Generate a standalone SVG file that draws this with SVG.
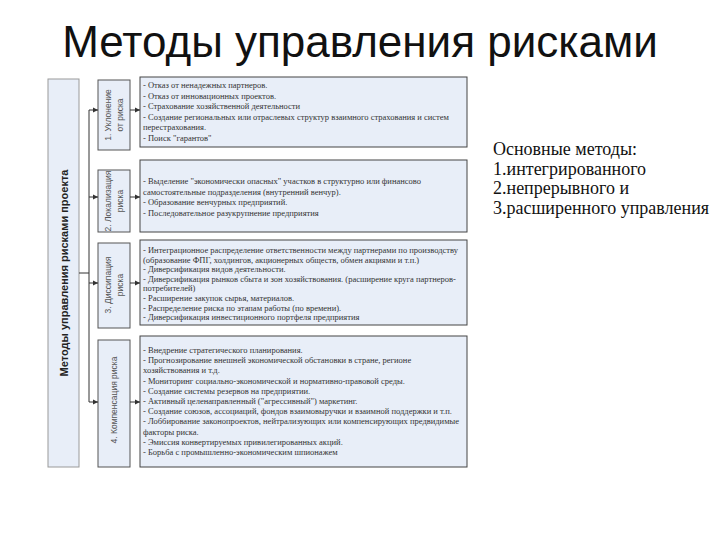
<svg xmlns="http://www.w3.org/2000/svg" width="720" height="540" viewBox="0 0 720 540">
<defs>
<marker id="arr" markerWidth="6" markerHeight="6" refX="5" refY="3" orient="auto" markerUnits="userSpaceOnUse">
<path d="M0,0.5 L5,3 L0,5.5 Z" fill="#333"/>
</marker>
<style>
.title{font-family:'Liberation Sans',Arial,sans-serif;font-size:44px;fill:#111}
.side{font-family:'Liberation Serif','DejaVu Serif','Times New Roman',serif;font-size:18px;fill:#111}
.big{fill:#e8eef8;stroke:#9a9a9a;stroke-width:1}
.small{fill:#e8eef8;stroke:#555;stroke-width:1}
.tbox{fill:#e8eef8;stroke:#444;stroke-width:1}
.bl{font-family:'Liberation Sans',Arial,sans-serif;font-size:11px;font-weight:bold;fill:#222}
.sl{font-family:'Liberation Sans',Arial,sans-serif;font-size:8.5px;fill:#555}
.tt{font-family:'Liberation Serif','DejaVu Serif','Times New Roman',serif;font-size:8.5px;fill:#333}
.ln{stroke:#333;stroke-width:1;fill:none}
</style>
</defs>
<rect width="720" height="540" fill="#fff"/>
<text class="title" x="360" y="57" text-anchor="middle">Методы управления рисками</text>
<g id="side-text" class="side">
<text x="493" y="155">Основные методы:</text>
<text x="493" y="175">1.интегрированного</text>
<text x="493" y="194">2.непрерывного и</text>
<text x="493" y="214">3.расширенного управления</text>
</g>
<g id="root">
<rect class="big" x="48" y="79" width="31" height="388"/>
<text class="bl" transform="translate(64,273) rotate(-90)" x="0" y="4" text-anchor="middle">Методы управления рисками проекта</text>
</g>
<g id="m1">
<rect class="small" x="98" y="80" width="32" height="70"/>
<text class="sl" transform="translate(114,115) rotate(-90)" text-anchor="middle"><tspan x="0" y="-3">1. Уклонение</tspan><tspan x="0" y="9">от риска</tspan></text>
</g>
<g id="m2">
<rect class="small" x="98" y="170" width="32" height="62"/>
<text class="sl" transform="translate(114,201) rotate(-90)" text-anchor="middle"><tspan x="0" y="-3">2. Локализация</tspan><tspan x="0" y="9">риска</tspan></text>
</g>
<g id="m3">
<rect class="small" x="98" y="243" width="32" height="85"/>
<text class="sl" transform="translate(114,285) rotate(-90)" text-anchor="middle"><tspan x="0" y="-3">3. Диссипация</tspan><tspan x="0" y="9">риска</tspan></text>
</g>
<g id="m4">
<rect class="small" x="98" y="340" width="32" height="127"/>
<text class="sl" transform="translate(114,400) rotate(-90)" x="0" y="3" text-anchor="middle">4. Компенсация риска</text>
</g>
<g id="t1">
<rect class="tbox" x="140" y="77" width="327" height="70"/>
<text class="tt"><tspan x="143" y="88">- Отказ от ненадежных партнеров.</tspan><tspan x="143" y="98.5">- Отказ от инновационных проектов.</tspan><tspan x="143" y="109">- Страхование хозяйственной деятельности</tspan><tspan x="143" y="119.5">- Создание региональных или отраслевых структур взаимного страхования и систем</tspan><tspan x="143" y="130">перестрахования.</tspan><tspan x="143" y="140.5">- Поиск "гарантов"</tspan></text>
</g>
<g id="t2">
<rect class="tbox" x="140" y="160" width="327" height="72"/>
<text class="tt"><tspan x="143" y="184">- Выделение "экономически опасных" участков в структурно или финансово</tspan><tspan x="143" y="194.5">самостоятельные подразделения (внутренний венчур).</tspan><tspan x="143" y="205">- Образование венчурных предприятий.</tspan><tspan x="143" y="215.5">- Последовательное разукрупнение предприятия</tspan></text>
</g>
<g id="t3">
<rect class="tbox" x="140" y="240" width="327" height="85"/>
<text class="tt"><tspan x="143" y="253">- Интеграционное распределение ответственности между партнерами по производству</tspan><tspan x="143" y="262.6">(образование ФПГ, холдингов, акционерных обществ, обмен акциями и т.п.)</tspan><tspan x="143" y="272.2">- Диверсификация видов деятельности.</tspan><tspan x="143" y="281.8">- Диверсификация рынков сбыта и зон хозяйствования. (расширение круга партнеров-</tspan><tspan x="143" y="291.4">потребителей)</tspan><tspan x="143" y="301">- Расширение закупок сырья, материалов.</tspan><tspan x="143" y="310.6">- Распределение риска по этапам работы (по времени).</tspan><tspan x="143" y="320.2">- Диверсификация инвестиционного портфеля предприятия</tspan></text>
</g>
<g id="t4">
<rect class="tbox" x="140" y="336" width="327" height="131"/>
<text class="tt"><tspan x="143" y="353">- Внедрение стратегического планирования.</tspan><tspan x="143" y="363.2">- Прогнозирование внешней экономической обстановки в стране, регионе</tspan><tspan x="143" y="373.4">хозяйствования и т.д.</tspan><tspan x="143" y="383.6">- Мониторинг социально-экономической и нормативно-правовой среды.</tspan><tspan x="143" y="393.8">- Создание системы резервов на предприятии.</tspan><tspan x="143" y="404">- Активный целенаправленный ("агрессивный") маркетинг.</tspan><tspan x="143" y="414.2">- Создание союзов, ассоциаций, фондов взаимовыручки и взаимной поддержки и т.п.</tspan><tspan x="143" y="424.4">- Лоббирование законопроектов, нейтрализующих или компенсирующих предвидимые</tspan><tspan x="143" y="434.6">факторы риска.</tspan><tspan x="143" y="444.8">- Эмиссия конвертируемых привилегированных акций.</tspan><tspan x="143" y="455">- Борьба с промышленно-экономическим шпионажем</tspan></text>
</g>
<g id="connectors" class="ln">
<path d="M79,273 H89"/>
<path d="M89,110 V402"/>
<path d="M89,110 H98" marker-end="url(#arr)"/>
<path d="M89,197 H98" marker-end="url(#arr)"/>
<path d="M89,283 H98" marker-end="url(#arr)"/>
<path d="M89,402 H98" marker-end="url(#arr)"/>
<path d="M130,110 H140" marker-end="url(#arr)"/>
<path d="M130,197 H140" marker-end="url(#arr)"/>
<path d="M130,283 H140" marker-end="url(#arr)"/>
<path d="M130,402 H140" marker-end="url(#arr)"/>
</g>
</svg>
